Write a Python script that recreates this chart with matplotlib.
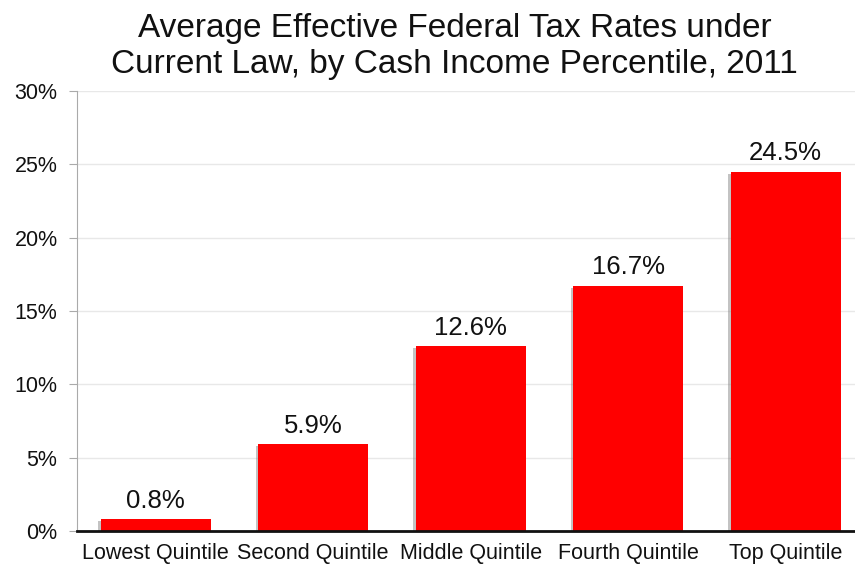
import matplotlib
matplotlib.use("Agg")
import matplotlib.pyplot as plt
import matplotlib.patheffects as pe
from matplotlib.ticker import FuncFormatter

# Average effective federal tax rates, 2011 (percent)
quintiles = ["Lowest Quintile", "Second Quintile", "Middle Quintile",
             "Fourth Quintile", "Top Quintile"]
tax_rates = [0.8, 5.9, 12.6, 16.7, 24.5]
y_ticks = [0, 5, 10, 15, 20, 25, 30]

plt.rcParams['font.family'] = ['Liberation Sans', 'DejaVu Sans']

fig = plt.figure(figsize=(8.55, 5.69), dpi=100)
ax = fig.add_axes([0.090, 0.067, 0.921, 0.773])

x = list(range(len(quintiles)))
bars = ax.bar(x, tax_rates, width=0.70, color='#ff0000', zorder=3)
for b in bars:
    b.set_path_effects([pe.SimplePatchShadow(offset=(-1.5, -1.5), shadow_rgbFace='#888888', alpha=0.5),
                        pe.Normal()])

for xi, v in zip(x, tax_rates):
    ax.text(xi, v + 0.45, f"{v:.1f}%", ha='center', va='bottom', fontsize=18.5, color='#111111')

ax.set_xlim(-0.5, len(quintiles) - 0.5)
ax.set_ylim(0, 30)
ax.set_yticks(y_ticks)
ax.yaxis.set_major_formatter(FuncFormatter(lambda v, p: f"{v:.0f}%"))
ax.set_xticks(x)
ax.set_xticklabels(quintiles)
ax.tick_params(axis='y', labelsize=15.5, length=6, color='#aaaaaa', pad=8, labelcolor='#111111')
ax.tick_params(axis='x', labelsize=15.5, length=0, pad=9, labelcolor='#111111')

ax.grid(axis='y', color='#e8e8e8', linewidth=1, zorder=0)
for s in ['top', 'right']:
    ax.spines[s].set_visible(False)
ax.spines['left'].set_color('#aaaaaa')
ax.spines['bottom'].set_color('#111111')
ax.spines['bottom'].set_linewidth(2)
ax.spines['bottom'].set_zorder(4)

fig.suptitle("Average Effective Federal Tax Rates under\nCurrent Law, by Cash Income Percentile, 2011",
             fontsize=24, x=0.532, y=0.978, va='top', linespacing=1.24, color='#111111')

fig.savefig("out.png", dpi=100)
